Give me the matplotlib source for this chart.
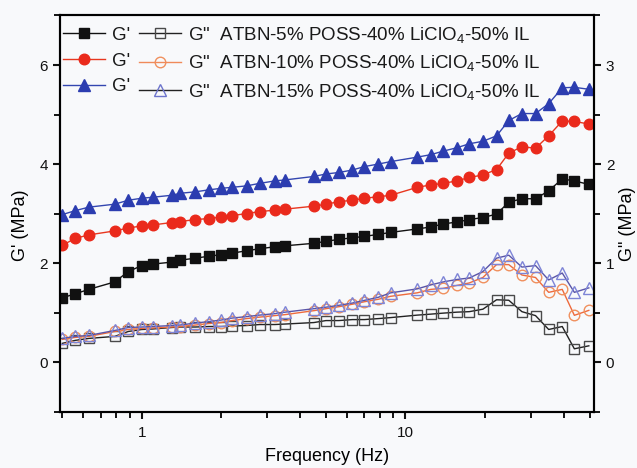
import numpy as np
import matplotlib
matplotlib.use("Agg")
import matplotlib.pyplot as plt
from matplotlib.lines import Line2D
from matplotlib.ticker import FixedLocator, NullFormatter, FixedFormatter, MultipleLocator

plt.rcParams['font.family'] = ['Liberation Sans', 'DejaVu Sans']
plt.rcParams['mathtext.fontset'] = 'custom'
plt.rcParams['mathtext.rm'] = 'Liberation Sans'
plt.rcParams['mathtext.default'] = 'regular'

# frequency sweep (Hz)
freq = [0.50, 0.56, 0.63, 0.79, 0.89, 1.0, 1.1, 1.3, 1.4, 1.6, 1.8, 2.0, 2.2,
        2.5, 2.8, 3.2, 3.5, 4.5, 5.0, 5.6, 6.3, 7.0, 7.9, 8.8,
        11.1, 12.5, 13.9, 15.7, 17.5, 19.7, 22.2, 24.7, 27.7, 31.2, 35.0, 39.4, 43.8, 49.7]

# storage modulus G' (MPa), left axis
g1_5 = [1.30, 1.38, 1.47, 1.62, 1.83, 1.95, 1.98, 2.02, 2.06, 2.10, 2.14, 2.17, 2.20,
        2.25, 2.29, 2.33, 2.35, 2.40, 2.44, 2.48, 2.51, 2.54, 2.58, 2.62,
        2.69, 2.73, 2.79, 2.83, 2.88, 2.92, 2.99, 3.23, 3.30, 3.30, 3.46, 3.70, 3.66, 3.59]
g1_10 = [2.36, 2.50, 2.57, 2.65, 2.71, 2.75, 2.77, 2.82, 2.84, 2.88, 2.90, 2.93, 2.96,
         3.00, 3.04, 3.07, 3.09, 3.15, 3.19, 3.24, 3.27, 3.31, 3.34, 3.37,
         3.53, 3.58, 3.61, 3.66, 3.73, 3.78, 3.89, 4.22, 4.35, 4.32, 4.57, 4.87, 4.86, 4.81]
g1_15 = [2.98, 3.06, 3.13, 3.19, 3.27, 3.31, 3.33, 3.37, 3.41, 3.44, 3.48, 3.51, 3.53,
         3.56, 3.61, 3.66, 3.68, 3.75, 3.80, 3.83, 3.88, 3.95, 4.00, 4.05,
         4.14, 4.19, 4.26, 4.33, 4.41, 4.46, 4.57, 4.88, 5.02, 5.02, 5.22, 5.54, 5.55, 5.51]

# loss modulus G'' (MPa), right axis
g2_5 = [0.19, 0.22, 0.24, 0.26, 0.31, 0.33, 0.335, 0.35, 0.355, 0.355, 0.36, 0.36, 0.365,
        0.37, 0.38, 0.38, 0.385, 0.40, 0.42, 0.42, 0.43, 0.43, 0.44, 0.45,
        0.475, 0.485, 0.495, 0.505, 0.51, 0.535, 0.63, 0.625, 0.51, 0.47, 0.33, 0.36, 0.135, 0.165]
g2_10 = [0.23, 0.25, 0.26, 0.31, 0.33, 0.34, 0.345, 0.355, 0.36, 0.375, 0.39, 0.40, 0.42,
         0.44, 0.455, 0.47, 0.48, 0.52, 0.54, 0.56, 0.585, 0.61, 0.635, 0.665,
         0.70, 0.735, 0.745, 0.775, 0.80, 0.855, 0.985, 0.985, 0.88, 0.855, 0.705, 0.735, 0.473, 0.523]
g2_15 = [0.24, 0.26, 0.27, 0.32, 0.35, 0.355, 0.36, 0.37, 0.375, 0.395, 0.41, 0.425, 0.445,
         0.46, 0.475, 0.49, 0.505, 0.54, 0.555, 0.574, 0.597, 0.624, 0.655, 0.70,
         0.74, 0.78, 0.81, 0.835, 0.85, 0.915, 1.05, 1.08, 0.96, 0.975, 0.83, 0.90, 0.705, 0.75]

names = ["ATBN-5% POSS-40% LiClO$_4$-50% IL",
         "ATBN-10% POSS-40% LiClO$_4$-50% IL",
         "ATBN-15% POSS-40% LiClO$_4$-50% IL"]

bg = "#f8f9fb"
fig = plt.figure(figsize=(6.37, 4.68), dpi=100, facecolor=bg)
ax = fig.add_axes([0.0942, 0.1203, 0.8383, 0.8466])
ax.set_facecolor(bg)
ax2 = ax.twinx()

ax.plot(freq, g1_5, color="#111111", lw=1.0, marker="s", ms=6.8, mfc="#111111", mec="#111111")
ax.plot(freq, g1_10, color="#e8371f", lw=1.0, marker="o", ms=7.6, mfc="#ea2a1c", mec="#ea2a1c")
ax.plot(freq, g1_15, color="#3346b0", lw=1.0, marker="^", ms=8.0, mfc="#2c3db0", mec="#2c3db0")

ax2.plot(freq, g2_5, color="#222222", lw=1.0, marker="s", ms=6.8, mfc="none", mec="#4a4a4a", mew=1.0)
ax2.plot(freq, g2_10, color="#ee6a3c", lw=1.0, marker="o", ms=7.6, mfc="none", mec="#f0905e", mew=1.0)
ax2.plot(freq, g2_15, color="#5a55a8", lw=1.0, marker="^", ms=8.4, mfc="none", mec="#7d84d6", mew=1.0)

ax.set_xscale("log")
ax.set_xlim(0.49, 52)
ax.set_ylim(-1, 7)
ax2.set_ylim(-0.5, 3.5)

ax.xaxis.set_major_locator(FixedLocator([1, 10]))
ax.xaxis.set_major_formatter(FixedFormatter(["1", "10"]))
minors = [0.5, 0.6, 0.7, 0.8, 0.9, 2, 3, 4, 5, 6, 7, 8, 9, 20, 30, 40, 50]
ax.xaxis.set_minor_locator(FixedLocator(minors))
ax.xaxis.set_minor_formatter(NullFormatter())

ax.yaxis.set_major_locator(FixedLocator([0, 2, 4, 6]))
ax.yaxis.set_minor_locator(MultipleLocator(1))
ax2.yaxis.set_major_locator(FixedLocator([0, 1, 2, 3]))
ax2.yaxis.set_minor_locator(MultipleLocator(0.5))

for a in (ax, ax2):
    for s in a.spines.values():
        s.set_linewidth(1.5)
    a.tick_params(which="major", direction="out", length=5, width=1.5, labelsize=11, colors="#111111")
    a.tick_params(which="minor", direction="out", length=4.5, width=1.3)
ax.tick_params(axis="x", pad=5)

ax.set_xlabel("Frequency (Hz)", fontsize=13, labelpad=6)
ax.set_ylabel("G' (MPa)", fontsize=13)
ax.yaxis.set_label_coords(-0.058, 0.47)
ax2.set_ylabel('G" (MPa)', fontsize=13, rotation=90)
ax2.yaxis.set_label_coords(1.047, 0.474)

# legend: G' handles in the first column, G'' handles in the second
h1 = [Line2D([], [], color="#111111", lw=1.0, marker="s", ms=6.8),
      Line2D([], [], color="#e8371f", lw=1.0, marker="o", ms=7.6, mfc="#ea2a1c", mec="#ea2a1c"),
      Line2D([], [], color="#3346b0", lw=1.0, marker="^", ms=8.0, mfc="#2c3db0", mec="#2c3db0")]
h2 = [Line2D([], [], color="#222222", lw=1.0, marker="s", ms=6.8, mfc="none", mec="#4a4a4a"),
      Line2D([], [], color="#f08a5a", lw=1.0, marker="o", ms=7.6, mfc="none", mec="#f0905e"),
      Line2D([], [], color="#222222", lw=1.0, marker="^", ms=8.4, mfc="none", mec="#6d74cc")]
labels = ["G'"] * 3 + ['G"  ' + n for n in names]
leg = ax2.legend(h1 + h2, labels, ncol=2, loc="upper left", bbox_to_anchor=(0.0, 0.983),
                 frameon=False, fontsize=13.5, handlelength=2.24, handletextpad=0.37,
                 columnspacing=0.5, labelspacing=0.45, borderaxespad=0.1, borderpad=0.05)
for t in leg.get_texts():
    t.set_color("#1a1a1a")

fig.savefig("out.png", dpi=100, facecolor=bg)
